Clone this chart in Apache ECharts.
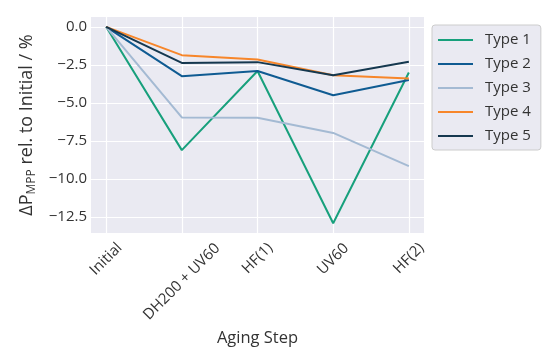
<!DOCTYPE html>
<html>
<head>
<meta charset="utf-8">
<script src="https://cdn.jsdelivr.net/npm/echarts@6/dist/echarts.min.js"></script>
<style>
  html, body { margin: 0; padding: 0; background: #fff; }
  #chart { width: 553px; height: 353px; }
</style>
</head>
<body>
<div id="chart"></div>
<script>
// aging steps and power loss per module type
var steps = ['Initial', 'DH200 + UV60', 'HF(1)', 'UV60', 'HF(2)'];
var type1 = [0, -8.1, -2.9, -12.9, -3.0];
var type2 = [0, -3.24, -2.9, -4.5, -3.5];
var type3 = [0, -5.95, -5.97, -6.97, -9.15];
var type4 = [0, -1.86, -2.15, -3.18, -3.4];
var type5 = [0, -2.37, -2.32, -3.18, -2.3];
var yTicks = [-12.5, -10, -7.5, -5, -2.5, 0];

var names = ['Type 1', 'Type 2', 'Type 3', 'Type 4', 'Type 5'];
var colors = ['#17a07c', '#0f5b92', '#a4bad3', '#f7862a', '#15384f'];
var values = [type1, type2, type3, type4, type5];

var tickFont = 15;

function toPoints(arr) {
    return arr.map(function (v, i) { return [i, v]; });
}

// rotated x labels: centre them under the tick with their top edge just below the axis
var ctx = document.createElement('canvas').getContext('2d');
ctx.font = tickFont + 'px "Open Sans"';
var xRich = {};
steps.forEach(function (s, i) {
    var w = ctx.measureText(s).width;
    var p = Math.round((w + tickFont * 1.1) / 2);
    xRich['l' + i] = {
        fontSize: tickFont, color: '#333', fontFamily: 'Open Sans',
        padding: [p, p, 0, 0]
    };
});

var chart = echarts.init(document.getElementById('chart'));
var series = [];
for (var k = 0; k < values.length; k++) {
    series.push({
        name: names[k],
        type: 'line',
        data: toPoints(values[k]),
        symbol: 'none',
        lineStyle: { width: 2, color: colors[k] },
        itemStyle: { color: colors[k] }
    });
}

chart.setOption({
    animation: false,
    textStyle: { fontFamily: 'Open Sans' },
    grid: {
        left: 91, right: 129, top: 17, bottom: 120,
        show: true, backgroundColor: '#eaeaf2', borderWidth: 0
    },
    legend: {
        orient: 'vertical',
        left: 432, top: 25,
        width: 104,
        data: names,
        backgroundColor: '#eaeaf2',
        borderColor: '#cccccc',
        borderWidth: 1,
        borderRadius: 3,
        padding: [6, 10, 5, 6],
        itemGap: 6,
        itemWidth: 35,
        itemHeight: 18,
        icon: 'path://M0,8 L35,8 L35,10 L0,10 Z',
        textStyle: { fontSize: 15, color: '#333', fontFamily: 'Open Sans', padding: [0, 0, 0, 7], lineHeight: 18 }
    },
    xAxis: {
        type: 'value',
        min: -0.2,
        max: 4.2,
        name: 'Aging Step',
        nameLocation: 'middle',
        nameGap: 95,
        nameTextStyle: { fontSize: 16.5, color: '#333' },
        axisLine: { show: false },
        axisTick: { show: false, customValues: [0, 1, 2, 3, 4] },
        axisLabel: {
            customValues: [0, 1, 2, 3, 4],
            rotate: 45,
            align: 'center',
            verticalAlign: 'middle',
            margin: 7,
            rich: xRich,
            formatter: function (v) {
                var i = Math.round(v);
                return '{l' + i + '|' + steps[i] + '}';
            }
        },
        splitLine: { show: true, lineStyle: { color: '#ffffff', width: 1.2 } }
    },
    yAxis: {
        type: 'value',
        min: -13.545,
        max: 0.645,
        name: '{d|ΔP}{s|MPP}{d| rel. to Initial / %}',
        nameLocation: 'middle',
        nameRotate: 90,
        nameGap: 50,
        nameTextStyle: {
            color: '#333',
            rich: {
                d: { fontSize: 18, color: '#333', fontFamily: 'Open Sans' },
                s: { fontSize: 12, color: '#333', fontFamily: 'Open Sans', padding: [9, 0, 0, 0] }
            }
        },
        axisLine: { show: false },
        axisTick: { show: false, customValues: yTicks },
        axisLabel: {
            customValues: yTicks,
            fontSize: tickFont,
            color: '#333',
            margin: 4,
            formatter: function (v) { return v.toFixed(1).replace('-', '\u2212'); }
        },
        splitLine: { show: true, lineStyle: { color: '#ffffff', width: 1.2 } }
    },
    series: series
});
</script>
</body>
</html>
